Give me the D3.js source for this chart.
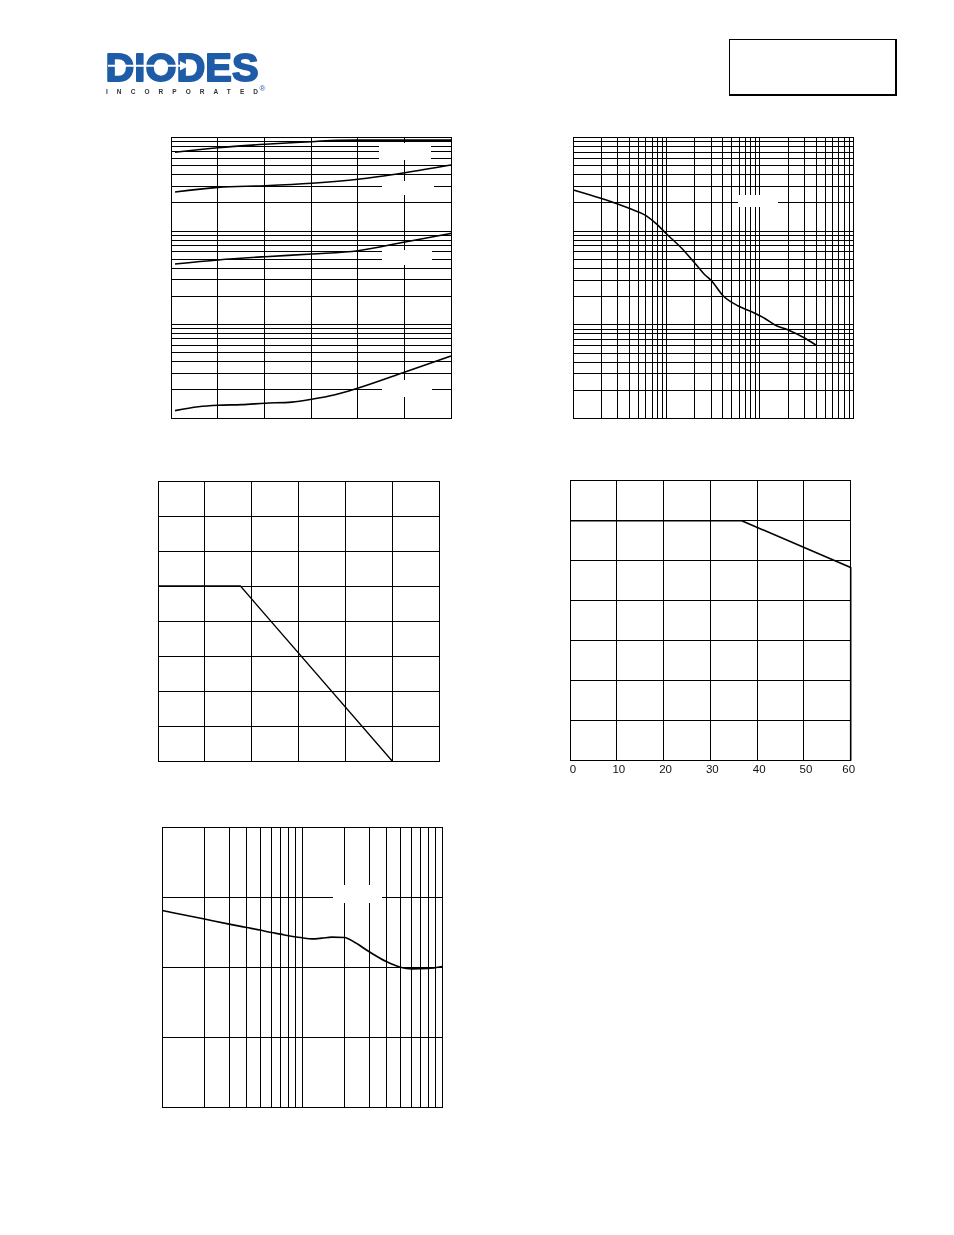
<!DOCTYPE html>
<html>
<head>
<meta charset="utf-8">
<script src="https://cdn.jsdelivr.net/npm/d3@7"></script>
<style>
  html, body { margin: 0; padding: 0; background: #fff; }
  svg { display: block; will-change: transform; }
</style>
</head>
<body>
<svg id="page" width="954" height="1235"></svg>
<script>
// ---------------- DATA ----------------
// Chart 1 (top left): linear x, log y (3 decades)
const c1XTicks = [0, 5, 10, 15, 20, 25, 30];
const c1YDomain = [1, 1000];
const c1CurveA = [[0.43, 695], [5.07, 778], [10.07, 846], [15.07, 902], [17.9, 936], [22, 937], [30, 937]];
const c1CurveB = [[0.43, 261], [5.04, 293], [10.07, 305], [15.07, 324], [20.04, 357], [25.07, 420], [30, 508]];
const c1CurveC = [[0.43, 44.4], [5.04, 49.0], [10.07, 53.1], [15.07, 56.8], [20.04, 61.5], [25.07, 76.3], [30, 94.4]];
const c1CurveD = [[0.43, 1.20], [2.93, 1.32], [5.07, 1.37], [7.57, 1.39], [10.07, 1.44], [12.93, 1.48], [15.07, 1.585], [17.57, 1.77], [20.07, 2.09], [25.07, 3.10], [30, 4.6]];

// Chart 2 (top right): log x (3 decades), log y (3 decades)
const c2XDomain = [1, 1000];
const c2YDomain = [1, 1000];
const c2Curve = [[1, 275], [1.97, 224], [2.99, 195], [4.22, 171], [6.12, 145], [7.83, 119], [10.0, 93.3], [14.5, 65.6], [20.1, 45.4], [25.8, 34.0], [29.7, 30.1], [40.5, 20.3], [58.6, 15.9], [81.5, 13.8], [113, 11.7], [145, 9.96], [201, 8.81], [304, 7.18], [396, 6.09]];

// Chart 3 (middle left): linear / linear
const c3XTicks = [0, 25, 50, 75, 100, 125, 150];
const c3YTicks = [0, 100, 200, 300, 400, 500, 600, 700, 800];
const c3Curve = [[0, 500], [44, 500], [125, 0]];

// Chart 4 (middle right): linear / linear, labelled x axis
const c4XTicks = [0, 10, 20, 30, 40, 50, 60];
const c4XLabels = ["0", "10", "20", "30", "40", "50", "60"];
const c4YTicks = [0, 1, 2, 3, 4, 5, 6, 7];
const c4Curve = [[0, 6], [36.7, 6], [60, 4.83], [60, 0]];

// Chart 5 (bottom left): log x (2 decades), linear y
const c5XDomain = [1, 100];
const c5YTicks = [0, 1, 2, 3, 4];
const c5Curve = [[1, 2.809], [2, 2.686], [3, 2.614], [4, 2.566], [5, 2.529], [6, 2.494], [7, 2.471], [8, 2.447], [10, 2.419], [11.7, 2.404], [13.8, 2.414], [16.2, 2.429], [20, 2.423], [23.8, 2.351], [29.9, 2.223], [39.8, 2.08], [50.1, 2.0], [60.4, 1.976], [79.4, 1.98], [100, 2.009]];

// ---------------- DRAW ----------------
const svg = d3.select("#page");
svg.append("rect").attr("width", 954).attr("height", 1235).attr("fill", "#fff");

function logGrid(domain) {
  const out = [];
  const lo = Math.round(Math.log10(domain[0])), hi = Math.round(Math.log10(domain[1]));
  for (let e = lo; e < hi; e++) for (let k = 1; k <= 9; k++) out.push(k * Math.pow(10, e));
  out.push(Math.pow(10, hi));
  return out;
}

function chart(opt) {
  const g = svg.append("g");
  const x = opt.x, y = opt.y;
  const grid = g.append("g").attr("stroke", "#000").attr("stroke-width", 1).attr("shape-rendering", "crispEdges");
  grid.selectAll(".v").data(opt.xGrid).join("line")
    .attr("x1", d => x(d)).attr("x2", d => x(d))
    .attr("y1", y.range()[0]).attr("y2", y.range()[1]);
  grid.selectAll(".h").data(opt.yGrid).join("line")
    .attr("y1", d => y(d)).attr("y2", d => y(d))
    .attr("x1", x.range()[0]).attr("x2", x.range()[1]);
  // blanked label areas
  (opt.blanks || []).forEach(b => {
    g.append("rect").attr("x", b[0]).attr("y", b[1]).attr("width", b[2]).attr("height", b[3]).attr("fill", "#fff");
  });
  const line = d3.line().x(d => x(d[0])).y(d => y(d[1])).curve(opt.curve || d3.curveLinear);
  opt.series.forEach(s => {
    g.append("path").attr("d", line(s)).attr("fill", "none").attr("stroke", "#000")
      .attr("stroke-width", opt.sw || 1.6).attr("stroke-linejoin", "round");
  });
  // frame
  g.append("rect")
    .attr("x", x.range()[0]).attr("y", y.range()[1])
    .attr("width", x.range()[1] - x.range()[0]).attr("height", y.range()[0] - y.range()[1])
    .attr("fill", "none").attr("stroke", "#000").attr("stroke-width", 1).attr("shape-rendering", "crispEdges");
  return g;
}

// Chart 1
{
  const x = d3.scaleLinear().domain([0, 30]).range([171, 451]);
  const y = d3.scaleLog().domain(c1YDomain).range([418, 137.5]);
  chart({ x, y, xGrid: c1XTicks, yGrid: logGrid(c1YDomain),
    series: [c1CurveA, c1CurveB, c1CurveC, c1CurveD], curve: d3.curveMonotoneX,
    blanks: [[379, 143, 52, 17], [382, 181, 52, 14], [382, 250, 50, 15], [382, 380, 50, 17]] });
}
// Chart 2
{
  const x = d3.scaleLog().domain(c2XDomain).range([573.3, 853.3]);
  const y = d3.scaleLog().domain(c2YDomain).range([418.5, 137.5]);
  chart({ x, y, xGrid: logGrid(c2XDomain), yGrid: logGrid(c2YDomain),
    series: [c2Curve], curve: d3.curveMonotoneX,
    blanks: [[738, 195, 40, 12]] });
}
// Chart 3
{
  const x = d3.scaleLinear().domain([0, 150]).range([158, 439]);
  const y = d3.scaleLinear().domain([0, 800]).range([761, 481]);
  chart({ x, y, xGrid: c3XTicks, yGrid: c3YTicks, series: [c3Curve], sw: 1.3 });
}
// Chart 4
{
  const x = d3.scaleLinear().domain([0, 60]).range([570, 850.7]);
  const y = d3.scaleLinear().domain([0, 7]).range([760.7, 480.7]);
  chart({ x, y, xGrid: c4XTicks, yGrid: c4YTicks, series: [c4Curve], sw: 1.6 });
  const axis = d3.axisBottom(x).tickValues(c4XTicks).tickFormat((d, i) => c4XLabels[i]).tickSize(0).tickPadding(0);
  const ag = svg.append("g").attr("transform", "translate(0,772.5)").call(axis);
  ag.select(".domain").remove();
  ag.selectAll("text").attr("font-family", "'Liberation Sans', Arial, sans-serif").attr("font-size", 11.5)
    .attr("fill", "#111").attr("dy", 0).attr("y", 0)
    .attr("dx", (d, i) => i === 0 ? 2.5 : (i === c4XTicks.length - 1 ? -2.5 : 1.5));
}
// Chart 5
{
  const x = d3.scaleLog().domain(c5XDomain).range([162.3, 442.3]);
  const y = d3.scaleLinear().domain([0, 4]).range([1107.3, 827]);
  chart({ x, y, xGrid: logGrid(c5XDomain), yGrid: c5YTicks, series: [c5Curve], curve: d3.curveMonotoneX,
    blanks: [[333, 885, 49, 18]] });
}

// ---------------- HEADER ----------------
const logo = svg.append("g");
logo.append("text").attr("x", 105.5).attr("y", 80.7)
  .attr("font-family", "'Liberation Sans', Arial, sans-serif").attr("font-weight", "bold")
  .attr("font-size", 39).attr("textLength", 153).attr("lengthAdjust", "spacingAndGlyphs")
  .attr("fill", "#1f5ca7").attr("stroke", "#1f5ca7").attr("stroke-width", 1.8).attr("stroke-linejoin", "round")
  .text("DIODES");
logo.append("line").attr("x1", 108).attr("x2", 184).attr("y1", 65.8).attr("y2", 65.8)
  .attr("stroke", "#fff").attr("stroke-width", 2);
logo.append("path").attr("d", "M180,61 L189,65.8 L180,70.6 Z").attr("fill", "#fff");
logo.append("text").attr("x", 106).attr("y", 94)
  .attr("font-family", "'Liberation Sans', Arial, sans-serif").attr("font-weight", "bold")
  .attr("font-size", 6.5).attr("textLength", 152).attr("lengthAdjust", "spacing")
  .attr("fill", "#333").text("INCORPORATED");
logo.append("text").attr("x", 259.5).attr("y", 91)
  .attr("font-family", "'Liberation Sans', Arial, sans-serif").attr("font-size", 8)
  .attr("fill", "#1f5ca7").text("®");

// top-right box
svg.append("rect").attr("x", 729.5).attr("y", 39.5).attr("width", 166).attr("height", 55)
  .attr("fill", "none").attr("stroke", "#000").attr("stroke-width", 1);
svg.append("line").attr("x1", 896).attr("x2", 896).attr("y1", 39).attr("y2", 95.5).attr("stroke", "#000").attr("stroke-width", 2);
svg.append("line").attr("x1", 729).attr("x2", 897).attr("y1", 95).attr("y2", 95).attr("stroke", "#000").attr("stroke-width", 2);
</script>
</body>
</html>
